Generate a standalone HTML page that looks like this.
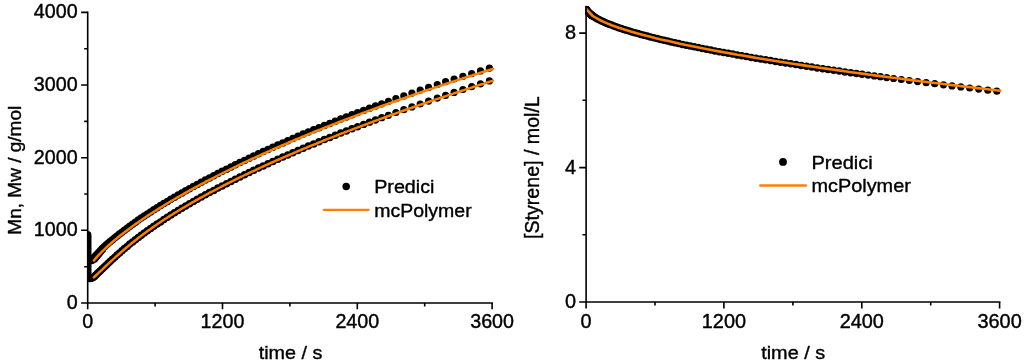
<!DOCTYPE html>
<html><head><meta charset="utf-8"><title>Predici vs mcPolymer</title>
<style>html,body{margin:0;padding:0;background:#fff}svg{display:block}</style></head>
<body>
<svg width="1024" height="363" viewBox="0 0 1024 363">
<defs><clipPath id="cl"><rect x="87.0" y="0" width="500" height="303.0"/></clipPath><clipPath id="cr"><rect x="585.7" y="5.9" width="500" height="296.1"/></clipPath></defs>
<rect width="1024" height="363" fill="#fff"/>
<g clip-path="url(#cl)" fill="#000">
<circle cx="87.6" cy="234.7" r="3.75"/>
<circle cx="87.6" cy="236.2" r="3.75"/>
<circle cx="87.6" cy="237.7" r="3.75"/>
<circle cx="87.6" cy="239.2" r="3.75"/>
<circle cx="87.6" cy="240.7" r="3.75"/>
<circle cx="87.6" cy="242.2" r="3.75"/>
<circle cx="87.6" cy="243.7" r="3.75"/>
<circle cx="87.6" cy="245.2" r="3.75"/>
<circle cx="87.6" cy="246.7" r="3.75"/>
<circle cx="87.6" cy="248.2" r="3.75"/>
<circle cx="87.6" cy="249.7" r="3.75"/>
<circle cx="87.6" cy="251.2" r="3.75"/>
<circle cx="87.6" cy="252.7" r="3.75"/>
<circle cx="87.6" cy="254.2" r="3.75"/>
<circle cx="87.6" cy="255.7" r="3.75"/>
<circle cx="87.6" cy="257.2" r="3.75"/>
<circle cx="87.6" cy="258.7" r="3.75"/>
<circle cx="87.6" cy="260.2" r="3.75"/>
<circle cx="87.6" cy="261.7" r="3.75"/>
<circle cx="87.6" cy="263.2" r="3.75"/>
<circle cx="87.6" cy="264.7" r="3.75"/>
<circle cx="87.6" cy="266.2" r="3.75"/>
<circle cx="87.6" cy="267.7" r="3.75"/>
<circle cx="87.6" cy="269.2" r="3.75"/>
<circle cx="87.6" cy="270.7" r="3.75"/>
<circle cx="87.6" cy="272.2" r="3.75"/>
<circle cx="87.6" cy="273.7" r="3.75"/>
<circle cx="87.6" cy="275.2" r="3.75"/>
<circle cx="87.6" cy="276.7" r="3.75"/>
<circle cx="87.6" cy="278.2" r="3.75"/>
<circle cx="88.6" cy="278.2" r="3.75"/>
<circle cx="89.6" cy="278.4" r="3.75"/>
<circle cx="90.6" cy="278.3" r="3.75"/>
<circle cx="91.5" cy="278.1" r="3.75"/>
<circle cx="92.3" cy="277.8" r="3.75"/>
<circle cx="93.0" cy="277.5" r="3.75"/>
<circle cx="88.6" cy="257.5" r="3.75"/>
<circle cx="89.4" cy="259.6" r="3.75"/>
<circle cx="90.4" cy="260.6" r="3.75"/>
<circle cx="91.4" cy="260.6" r="3.75"/>
<circle cx="92.3" cy="259.9" r="3.75"/>
<circle cx="93.1" cy="258.9" r="3.75"/>
<circle cx="93.7" cy="258.0" r="3.75"/>
<circle cx="489.4" cy="68.2" r="3.60"/>
<circle cx="489.4" cy="80.9" r="3.60"/>
<circle cx="480.5" cy="70.9" r="3.60"/>
<circle cx="480.5" cy="83.8" r="3.60"/>
<circle cx="471.7" cy="73.6" r="3.60"/>
<circle cx="471.7" cy="86.6" r="3.60"/>
<circle cx="462.9" cy="76.3" r="3.60"/>
<circle cx="462.9" cy="89.5" r="3.60"/>
<circle cx="454.1" cy="79.0" r="3.60"/>
<circle cx="454.1" cy="92.4" r="3.60"/>
<circle cx="445.6" cy="81.7" r="3.60"/>
<circle cx="445.6" cy="95.3" r="3.60"/>
<circle cx="437.3" cy="84.5" r="3.60"/>
<circle cx="437.3" cy="98.1" r="3.60"/>
<circle cx="428.6" cy="87.4" r="3.60"/>
<circle cx="428.6" cy="101.1" r="3.60"/>
<circle cx="420.2" cy="90.2" r="3.60"/>
<circle cx="420.2" cy="104.0" r="3.60"/>
<circle cx="411.9" cy="93.1" r="3.60"/>
<circle cx="411.9" cy="106.9" r="3.60"/>
<circle cx="403.8" cy="95.9" r="3.60"/>
<circle cx="403.8" cy="109.7" r="3.60"/>
<circle cx="395.9" cy="98.7" r="3.60"/>
<circle cx="395.9" cy="112.5" r="3.60"/>
<circle cx="388.4" cy="101.3" r="3.61"/>
<circle cx="388.4" cy="115.3" r="3.61"/>
<circle cx="381.7" cy="103.8" r="3.63"/>
<circle cx="381.7" cy="117.7" r="3.63"/>
<circle cx="375.5" cy="106.0" r="3.65"/>
<circle cx="375.5" cy="120.0" r="3.65"/>
<circle cx="369.5" cy="108.2" r="3.67"/>
<circle cx="369.5" cy="122.2" r="3.67"/>
<circle cx="363.6" cy="110.4" r="3.69"/>
<circle cx="363.6" cy="124.4" r="3.69"/>
<circle cx="357.6" cy="112.6" r="3.71"/>
<circle cx="357.6" cy="126.7" r="3.71"/>
<circle cx="352.0" cy="114.8" r="3.73"/>
<circle cx="352.0" cy="128.8" r="3.73"/>
<circle cx="346.4" cy="116.9" r="3.75"/>
<circle cx="346.4" cy="131.0" r="3.75"/>
<circle cx="340.8" cy="119.1" r="3.75"/>
<circle cx="340.8" cy="133.1" r="3.75"/>
<circle cx="335.3" cy="121.2" r="3.75"/>
<circle cx="335.3" cy="135.3" r="3.75"/>
<circle cx="329.8" cy="123.4" r="3.75"/>
<circle cx="329.8" cy="137.4" r="3.75"/>
<circle cx="324.4" cy="125.5" r="3.75"/>
<circle cx="324.4" cy="139.6" r="3.75"/>
<circle cx="319.0" cy="127.7" r="3.75"/>
<circle cx="319.0" cy="141.8" r="3.75"/>
<circle cx="313.7" cy="129.8" r="3.75"/>
<circle cx="313.7" cy="143.9" r="3.75"/>
<circle cx="308.4" cy="132.0" r="3.75"/>
<circle cx="308.4" cy="146.1" r="3.75"/>
<circle cx="303.2" cy="134.1" r="3.75"/>
<circle cx="303.2" cy="148.3" r="3.75"/>
<circle cx="298.0" cy="136.3" r="3.75"/>
<circle cx="298.0" cy="150.5" r="3.75"/>
<circle cx="292.9" cy="138.5" r="3.75"/>
<circle cx="292.9" cy="152.7" r="3.75"/>
<circle cx="287.8" cy="140.7" r="3.75"/>
<circle cx="287.8" cy="154.9" r="3.75"/>
<circle cx="282.8" cy="142.9" r="3.75"/>
<circle cx="282.8" cy="157.1" r="3.75"/>
<circle cx="277.8" cy="145.1" r="3.75"/>
<circle cx="277.8" cy="159.3" r="3.75"/>
<circle cx="272.9" cy="147.2" r="3.75"/>
<circle cx="272.9" cy="161.5" r="3.75"/>
<circle cx="268.0" cy="149.4" r="3.75"/>
<circle cx="268.0" cy="163.7" r="3.75"/>
<circle cx="263.2" cy="151.6" r="3.75"/>
<circle cx="263.2" cy="165.9" r="3.75"/>
<circle cx="258.5" cy="153.8" r="3.75"/>
<circle cx="258.5" cy="168.1" r="3.75"/>
<circle cx="253.7" cy="156.0" r="3.75"/>
<circle cx="253.7" cy="170.3" r="3.75"/>
<circle cx="249.1" cy="158.2" r="3.75"/>
<circle cx="249.1" cy="172.5" r="3.75"/>
<circle cx="244.5" cy="160.4" r="3.75"/>
<circle cx="244.5" cy="174.7" r="3.75"/>
<circle cx="239.9" cy="162.6" r="3.75"/>
<circle cx="239.9" cy="177.0" r="3.75"/>
<circle cx="235.4" cy="164.8" r="3.75"/>
<circle cx="235.4" cy="179.2" r="3.75"/>
<circle cx="231.0" cy="167.0" r="3.75"/>
<circle cx="231.0" cy="181.4" r="3.75"/>
<circle cx="226.6" cy="169.2" r="3.75"/>
<circle cx="226.6" cy="183.7" r="3.75"/>
<circle cx="222.2" cy="171.3" r="3.75"/>
<circle cx="222.2" cy="185.9" r="3.75"/>
<circle cx="217.9" cy="173.5" r="3.75"/>
<circle cx="217.9" cy="188.1" r="3.75"/>
<circle cx="213.7" cy="175.7" r="3.75"/>
<circle cx="213.7" cy="190.4" r="3.75"/>
<circle cx="209.5" cy="177.9" r="3.75"/>
<circle cx="209.5" cy="192.6" r="3.75"/>
<circle cx="205.4" cy="180.1" r="3.75"/>
<circle cx="205.4" cy="194.8" r="3.75"/>
<circle cx="201.3" cy="182.2" r="3.75"/>
<circle cx="201.3" cy="197.1" r="3.75"/>
<circle cx="197.3" cy="184.4" r="3.75"/>
<circle cx="197.3" cy="199.3" r="3.75"/>
<circle cx="193.4" cy="186.5" r="3.75"/>
<circle cx="193.4" cy="201.6" r="3.75"/>
<circle cx="189.5" cy="188.7" r="3.75"/>
<circle cx="189.5" cy="203.8" r="3.75"/>
<circle cx="185.7" cy="190.8" r="3.75"/>
<circle cx="185.7" cy="206.1" r="3.75"/>
<circle cx="181.9" cy="192.9" r="3.75"/>
<circle cx="181.9" cy="208.3" r="3.75"/>
<circle cx="178.2" cy="195.1" r="3.75"/>
<circle cx="178.2" cy="210.6" r="3.75"/>
<circle cx="174.5" cy="197.2" r="3.75"/>
<circle cx="174.5" cy="212.8" r="3.75"/>
<circle cx="170.9" cy="199.3" r="3.75"/>
<circle cx="170.9" cy="215.1" r="3.75"/>
<circle cx="167.4" cy="201.4" r="3.75"/>
<circle cx="167.4" cy="217.3" r="3.75"/>
<circle cx="163.9" cy="203.5" r="3.75"/>
<circle cx="163.9" cy="219.6" r="3.75"/>
<circle cx="160.5" cy="205.6" r="3.75"/>
<circle cx="160.5" cy="221.9" r="3.75"/>
<circle cx="157.1" cy="207.7" r="3.75"/>
<circle cx="157.1" cy="224.1" r="3.75"/>
<circle cx="153.8" cy="209.8" r="3.75"/>
<circle cx="153.8" cy="226.3" r="3.75"/>
<circle cx="150.6" cy="211.9" r="3.75"/>
<circle cx="150.6" cy="228.5" r="3.75"/>
<circle cx="147.4" cy="214.0" r="3.75"/>
<circle cx="147.4" cy="230.8" r="3.75"/>
<circle cx="144.3" cy="216.0" r="3.75"/>
<circle cx="144.3" cy="233.0" r="3.75"/>
<circle cx="141.3" cy="218.1" r="3.75"/>
<circle cx="141.3" cy="235.2" r="3.75"/>
<circle cx="138.3" cy="220.1" r="3.75"/>
<circle cx="138.3" cy="237.5" r="3.75"/>
<circle cx="135.4" cy="222.2" r="3.75"/>
<circle cx="135.4" cy="239.7" r="3.75"/>
<circle cx="132.6" cy="224.2" r="3.75"/>
<circle cx="132.6" cy="241.9" r="3.75"/>
<circle cx="129.8" cy="226.2" r="3.75"/>
<circle cx="129.8" cy="244.1" r="3.75"/>
<circle cx="127.2" cy="228.2" r="3.75"/>
<circle cx="127.2" cy="246.4" r="3.75"/>
<circle cx="124.5" cy="230.2" r="3.75"/>
<circle cx="124.5" cy="248.6" r="3.75"/>
<circle cx="122.0" cy="232.2" r="3.75"/>
<circle cx="122.0" cy="250.8" r="3.75"/>
<circle cx="119.5" cy="234.1" r="3.75"/>
<circle cx="119.5" cy="253.0" r="3.75"/>
<circle cx="117.1" cy="236.0" r="3.75"/>
<circle cx="117.1" cy="255.1" r="3.75"/>
<circle cx="114.8" cy="237.8" r="3.75"/>
<circle cx="114.8" cy="257.2" r="3.75"/>
<circle cx="112.5" cy="239.7" r="3.75"/>
<circle cx="112.5" cy="259.3" r="3.75"/>
<circle cx="110.3" cy="241.5" r="3.75"/>
<circle cx="110.3" cy="261.3" r="3.75"/>
<circle cx="108.2" cy="243.3" r="3.75"/>
<circle cx="108.2" cy="263.3" r="3.75"/>
<circle cx="106.2" cy="245.0" r="3.75"/>
<circle cx="106.2" cy="265.2" r="3.75"/>
<circle cx="104.3" cy="246.8" r="3.75"/>
<circle cx="104.3" cy="267.0" r="3.75"/>
<circle cx="102.4" cy="248.6" r="3.75"/>
<circle cx="102.4" cy="249.5" r="3.75"/>
<circle cx="102.4" cy="268.8" r="3.75"/>
<circle cx="100.6" cy="250.4" r="3.75"/>
<circle cx="100.6" cy="251.5" r="3.75"/>
<circle cx="100.6" cy="270.5" r="3.75"/>
<circle cx="99.0" cy="252.2" r="3.75"/>
<circle cx="99.0" cy="253.5" r="3.75"/>
<circle cx="99.0" cy="272.1" r="3.75"/>
<circle cx="97.4" cy="253.9" r="3.75"/>
<circle cx="97.4" cy="255.4" r="3.75"/>
<circle cx="97.4" cy="273.6" r="3.75"/>
<circle cx="95.9" cy="255.6" r="3.75"/>
<circle cx="95.9" cy="257.2" r="3.75"/>
<circle cx="95.9" cy="275.0" r="3.75"/>
<circle cx="94.5" cy="257.3" r="3.75"/>
<circle cx="94.5" cy="259.1" r="3.75"/>
<circle cx="94.5" cy="276.4" r="3.75"/>
</g>
<path d="M93.9 260.5 L95.9 258.1 L97.9 255.9 L99.9 253.8 L101.9 251.7 L103.9 249.8 L105.9 247.9 L107.9 246.0 L109.9 244.2 L111.9 242.5 L113.9 240.8 L115.9 239.1 L117.9 237.4 L119.9 235.8 L121.9 234.3 L123.9 232.7 L125.9 231.2 L127.9 229.7 L129.9 228.2 L131.9 226.7 L133.9 225.3 L135.9 223.8 L137.9 222.4 L139.9 221.0 L141.9 219.7 L143.9 218.3 L145.9 217.0 L147.9 215.6 L149.9 214.3 L151.9 213.0 L153.9 211.7 L155.9 210.5 L157.9 209.2 L159.9 207.9 L161.9 206.7 L163.9 205.5 L165.9 204.3 L167.9 203.0 L169.9 201.8 L171.9 200.7 L173.9 199.5 L175.9 198.3 L177.9 197.1 L179.9 196.0 L181.9 194.9 L183.9 193.7 L185.9 192.6 L187.9 191.5 L189.9 190.4 L191.9 189.3 L193.9 188.2 L195.9 187.1 L197.9 186.0 L199.9 184.9 L201.9 183.8 L203.9 182.8 L205.9 181.7 L207.9 180.7 L209.9 179.6 L211.9 178.6 L213.9 177.6 L215.9 176.5 L217.9 175.5 L219.9 174.5 L221.9 173.5 L223.9 172.5 L225.9 171.5 L227.9 170.5 L229.9 169.5 L231.9 168.5 L233.9 167.5 L235.9 166.6 L237.9 165.6 L239.9 164.6 L241.9 163.7 L243.9 162.7 L245.9 161.8 L247.9 160.9 L249.9 159.9 L251.9 159.0 L253.9 158.1 L255.9 157.1 L257.9 156.2 L259.9 155.3 L261.9 154.4 L263.9 153.5 L265.9 152.6 L267.9 151.7 L269.9 150.8 L271.9 149.9 L273.9 149.0 L275.9 148.1 L277.9 147.2 L279.9 146.4 L281.9 145.5 L283.9 144.6 L285.9 143.8 L287.9 142.9 L289.9 142.0 L291.9 141.2 L293.9 140.3 L295.9 139.5 L297.9 138.7 L299.9 137.8 L301.9 137.0 L303.9 136.2 L305.9 135.3 L307.9 134.5 L309.9 133.7 L311.9 132.9 L313.9 132.0 L315.9 131.2 L317.9 130.4 L319.9 129.6 L321.9 128.8 L323.9 128.0 L325.9 127.2 L327.9 126.4 L329.9 125.6 L331.9 124.8 L333.9 124.1 L335.9 123.3 L337.9 122.5 L339.9 121.7 L341.9 120.9 L343.9 120.2 L345.9 119.4 L347.9 118.6 L349.9 117.9 L351.9 117.1 L353.9 116.4 L355.9 115.6 L357.9 114.8 L359.9 114.1 L361.9 113.3 L363.9 112.6 L365.9 111.9 L367.9 111.1 L369.9 110.4 L371.9 109.6 L373.9 108.9 L375.9 108.2 L377.9 107.4 L379.9 106.7 L381.9 106.0 L383.9 105.3 L385.9 104.6 L387.9 103.8 L389.9 103.1 L391.9 102.4 L393.9 101.7 L395.9 101.0 L397.9 100.3 L399.9 99.6 L401.9 98.9 L403.9 98.2 L405.9 97.5 L407.9 96.8 L409.9 96.1 L411.9 95.4 L413.9 94.7 L415.9 94.0 L417.9 93.3 L419.9 92.6 L421.9 92.0 L423.9 91.3 L425.9 90.6 L427.9 89.9 L429.9 89.2 L431.9 88.6 L433.9 87.9 L435.9 87.2 L437.9 86.6 L439.9 85.9 L441.9 85.2 L443.9 84.6 L445.9 83.9 L447.9 83.2 L449.9 82.6 L451.9 81.9 L453.9 81.3 L455.9 80.6 L457.9 80.0 L459.9 79.3 L461.9 78.7 L463.9 78.0 L465.9 77.4 L467.9 76.8 L469.9 76.1 L471.9 75.5 L473.9 74.8 L475.9 74.2 L477.9 73.6 L479.9 72.9 L481.9 72.3 L483.9 71.7 L485.9 71.0 L487.9 70.4 L489.9 69.8 L491.9 69.2 L493.0 68.8" fill="none" stroke="#ff8000" stroke-width="2.5" stroke-linecap="round" stroke-linejoin="round"/>
<path d="M93.9 277.4 L95.9 275.5 L97.9 273.6 L99.9 271.7 L101.9 269.8 L103.9 267.9 L105.9 266.0 L107.9 264.1 L109.9 262.2 L111.9 260.4 L113.9 258.6 L115.9 256.7 L117.9 255.0 L119.9 253.2 L121.9 251.5 L123.9 249.7 L125.9 248.0 L127.9 246.4 L129.9 244.7 L131.9 243.1 L133.9 241.5 L135.9 239.9 L137.9 238.3 L139.9 236.8 L141.9 235.2 L143.9 233.7 L145.9 232.3 L147.9 230.8 L149.9 229.4 L151.9 227.9 L153.9 226.6 L155.9 225.2 L157.9 223.8 L159.9 222.5 L161.9 221.1 L163.9 219.8 L165.9 218.5 L167.9 217.2 L169.9 215.9 L171.9 214.7 L173.9 213.4 L175.9 212.2 L177.9 211.0 L179.9 209.8 L181.9 208.5 L183.9 207.4 L185.9 206.2 L187.9 205.0 L189.9 203.8 L191.9 202.7 L193.9 201.6 L195.9 200.4 L197.9 199.3 L199.9 198.2 L201.9 197.1 L203.9 196.0 L205.9 194.9 L207.9 193.8 L209.9 192.7 L211.9 191.7 L213.9 190.6 L215.9 189.6 L217.9 188.5 L219.9 187.5 L221.9 186.4 L223.9 185.4 L225.9 184.4 L227.9 183.4 L229.9 182.4 L231.9 181.4 L233.9 180.4 L235.9 179.4 L237.9 178.4 L239.9 177.4 L241.9 176.5 L243.9 175.5 L245.9 174.5 L247.9 173.6 L249.9 172.6 L251.9 171.7 L253.9 170.8 L255.9 169.8 L257.9 168.9 L259.9 168.0 L261.9 167.0 L263.9 166.1 L265.9 165.2 L267.9 164.3 L269.9 163.4 L271.9 162.5 L273.9 161.6 L275.9 160.7 L277.9 159.8 L279.9 159.0 L281.9 158.1 L283.9 157.2 L285.9 156.3 L287.9 155.5 L289.9 154.6 L291.9 153.8 L293.9 152.9 L295.9 152.1 L297.9 151.2 L299.9 150.4 L301.9 149.5 L303.9 148.7 L305.9 147.9 L307.9 147.0 L309.9 146.2 L311.9 145.4 L313.9 144.6 L315.9 143.8 L317.9 143.0 L319.9 142.1 L321.9 141.3 L323.9 140.5 L325.9 139.7 L327.9 138.9 L329.9 138.1 L331.9 137.4 L333.9 136.6 L335.9 135.8 L337.9 135.0 L339.9 134.2 L341.9 133.4 L343.9 132.7 L345.9 131.9 L347.9 131.1 L349.9 130.4 L351.9 129.6 L353.9 128.8 L355.9 128.1 L357.9 127.3 L359.9 126.6 L361.9 125.8 L363.9 125.1 L365.9 124.3 L367.9 123.6 L369.9 122.8 L371.9 122.1 L373.9 121.3 L375.9 120.6 L377.9 119.9 L379.9 119.1 L381.9 118.4 L383.9 117.7 L385.9 117.0 L387.9 116.2 L389.9 115.5 L391.9 114.8 L393.9 114.1 L395.9 113.4 L397.9 112.7 L399.9 111.9 L401.9 111.2 L403.9 110.5 L405.9 109.8 L407.9 109.1 L409.9 108.4 L411.9 107.7 L413.9 107.0 L415.9 106.3 L417.9 105.6 L419.9 104.9 L421.9 104.2 L423.9 103.5 L425.9 102.9 L427.9 102.2 L429.9 101.5 L431.9 100.8 L433.9 100.1 L435.9 99.4 L437.9 98.8 L439.9 98.1 L441.9 97.4 L443.9 96.7 L445.9 96.1 L447.9 95.4 L449.9 94.7 L451.9 94.1 L453.9 93.4 L455.9 92.7 L457.9 92.1 L459.9 91.4 L461.9 90.7 L463.9 90.1 L465.9 89.4 L467.9 88.8 L469.9 88.1 L471.9 87.5 L473.9 86.8 L475.9 86.1 L477.9 85.5 L479.9 84.8 L481.9 84.2 L483.9 83.6 L485.9 82.9 L487.9 82.3 L489.9 81.6 L491.9 81.0 L493.0 80.6" fill="none" stroke="#ff8000" stroke-width="2.5" stroke-linecap="round" stroke-linejoin="round"/>
<g clip-path="url(#cr)" fill="#000">
<circle cx="996.8" cy="91.2" r="3.60"/>
<circle cx="987.8" cy="90.2" r="3.60"/>
<circle cx="978.7" cy="89.1" r="3.60"/>
<circle cx="969.7" cy="88.0" r="3.60"/>
<circle cx="960.8" cy="86.9" r="3.60"/>
<circle cx="952.0" cy="85.9" r="3.60"/>
<circle cx="943.5" cy="84.8" r="3.60"/>
<circle cx="934.7" cy="83.7" r="3.60"/>
<circle cx="926.1" cy="82.7" r="3.60"/>
<circle cx="917.6" cy="81.6" r="3.60"/>
<circle cx="909.3" cy="80.5" r="3.60"/>
<circle cx="901.3" cy="79.5" r="3.60"/>
<circle cx="893.6" cy="78.5" r="3.61"/>
<circle cx="886.7" cy="77.6" r="3.63"/>
<circle cx="880.4" cy="76.7" r="3.65"/>
<circle cx="874.3" cy="75.9" r="3.67"/>
<circle cx="868.2" cy="75.1" r="3.69"/>
<circle cx="862.1" cy="74.3" r="3.71"/>
<circle cx="856.4" cy="73.5" r="3.73"/>
<circle cx="850.6" cy="72.7" r="3.75"/>
<circle cx="844.9" cy="71.9" r="3.75"/>
<circle cx="839.3" cy="71.1" r="3.75"/>
<circle cx="833.7" cy="70.3" r="3.75"/>
<circle cx="828.1" cy="69.5" r="3.75"/>
<circle cx="822.7" cy="68.7" r="3.75"/>
<circle cx="817.2" cy="67.9" r="3.75"/>
<circle cx="811.8" cy="67.1" r="3.75"/>
<circle cx="806.5" cy="66.2" r="3.75"/>
<circle cx="801.2" cy="65.4" r="3.75"/>
<circle cx="795.9" cy="64.6" r="3.75"/>
<circle cx="790.7" cy="63.8" r="3.75"/>
<circle cx="785.6" cy="63.0" r="3.75"/>
<circle cx="780.5" cy="62.2" r="3.75"/>
<circle cx="775.5" cy="61.4" r="3.75"/>
<circle cx="770.5" cy="60.6" r="3.75"/>
<circle cx="765.6" cy="59.8" r="3.75"/>
<circle cx="760.7" cy="59.0" r="3.75"/>
<circle cx="755.9" cy="58.2" r="3.75"/>
<circle cx="751.1" cy="57.4" r="3.75"/>
<circle cx="746.4" cy="56.6" r="3.75"/>
<circle cx="741.7" cy="55.8" r="3.75"/>
<circle cx="737.1" cy="54.9" r="3.75"/>
<circle cx="732.6" cy="54.1" r="3.75"/>
<circle cx="728.1" cy="53.3" r="3.75"/>
<circle cx="723.6" cy="52.5" r="3.75"/>
<circle cx="719.3" cy="51.7" r="3.75"/>
<circle cx="714.9" cy="50.9" r="3.75"/>
<circle cx="710.7" cy="50.1" r="3.75"/>
<circle cx="706.5" cy="49.3" r="3.75"/>
<circle cx="702.3" cy="48.4" r="3.75"/>
<circle cx="698.2" cy="47.6" r="3.75"/>
<circle cx="694.2" cy="46.8" r="3.75"/>
<circle cx="690.2" cy="46.0" r="3.75"/>
<circle cx="686.3" cy="45.2" r="3.75"/>
<circle cx="682.4" cy="44.4" r="3.75"/>
<circle cx="678.6" cy="43.5" r="3.75"/>
<circle cx="674.9" cy="42.7" r="3.75"/>
<circle cx="671.2" cy="41.9" r="3.75"/>
<circle cx="667.6" cy="41.1" r="3.75"/>
<circle cx="664.0" cy="40.3" r="3.75"/>
<circle cx="660.5" cy="39.4" r="3.75"/>
<circle cx="657.1" cy="38.6" r="3.75"/>
<circle cx="653.7" cy="37.8" r="3.75"/>
<circle cx="650.4" cy="37.0" r="3.75"/>
<circle cx="647.2" cy="36.1" r="3.75"/>
<circle cx="644.0" cy="35.3" r="3.75"/>
<circle cx="640.9" cy="34.5" r="3.75"/>
<circle cx="637.9" cy="33.6" r="3.75"/>
<circle cx="634.9" cy="32.8" r="3.75"/>
<circle cx="632.0" cy="31.9" r="3.75"/>
<circle cx="629.2" cy="31.1" r="3.75"/>
<circle cx="626.4" cy="30.3" r="3.75"/>
<circle cx="623.8" cy="29.4" r="3.75"/>
<circle cx="621.1" cy="28.6" r="3.75"/>
<circle cx="618.6" cy="27.7" r="3.75"/>
<circle cx="616.1" cy="26.8" r="3.75"/>
<circle cx="613.8" cy="26.0" r="3.75"/>
<circle cx="611.5" cy="25.1" r="3.75"/>
<circle cx="609.2" cy="24.2" r="3.75"/>
<circle cx="607.1" cy="23.4" r="3.75"/>
<circle cx="605.0" cy="22.5" r="3.75"/>
<circle cx="603.0" cy="21.6" r="3.75"/>
<circle cx="601.1" cy="20.7" r="3.75"/>
<circle cx="599.3" cy="19.8" r="3.75"/>
<circle cx="597.6" cy="18.9" r="3.75"/>
<circle cx="596.0" cy="18.0" r="3.75"/>
<circle cx="594.5" cy="17.1" r="3.75"/>
<circle cx="593.0" cy="16.1" r="3.75"/>
<circle cx="592.7" cy="15.9" r="3.75"/>
<circle cx="592.3" cy="15.7" r="3.75"/>
<circle cx="592.0" cy="15.4" r="3.75"/>
<circle cx="591.6" cy="15.2" r="3.75"/>
<circle cx="591.3" cy="14.9" r="3.75"/>
<circle cx="591.0" cy="14.6" r="3.75"/>
<circle cx="590.6" cy="14.4" r="3.75"/>
<circle cx="590.3" cy="14.1" r="3.75"/>
<circle cx="589.9" cy="13.8" r="3.75"/>
<circle cx="589.6" cy="13.5" r="3.75"/>
<circle cx="589.2" cy="13.2" r="3.75"/>
<circle cx="588.9" cy="12.8" r="3.75"/>
<circle cx="588.5" cy="12.5" r="3.75"/>
<circle cx="588.2" cy="12.1" r="3.75"/>
<circle cx="587.9" cy="11.7" r="3.75"/>
<circle cx="587.5" cy="11.3" r="3.75"/>
<circle cx="587.2" cy="10.9" r="3.75"/>
<circle cx="586.8" cy="10.4" r="3.75"/>
<circle cx="586.5" cy="9.8" r="3.75"/>
<circle cx="586.1" cy="9.1" r="3.75"/>
<circle cx="586.1" cy="9.1" r="3.75"/>
</g>
<path d="M585.2 8.0 L592.8 16.0 L599.1 19.7 L605.4 22.6 L611.7 25.2 L618.0 27.4 L624.3 29.5 L630.6 31.4 L636.9 33.3 L643.2 35.0 L649.5 36.6 L655.8 38.2 L662.1 39.7 L668.4 41.1 L674.7 42.5 L681.0 43.9 L687.3 45.2 L693.6 46.5 L699.9 47.8 L706.2 49.0 L712.5 50.2 L718.8 51.4 L725.1 52.5 L731.4 53.6 L737.7 54.8 L744.0 55.8 L750.3 56.9 L756.6 58.0 L762.9 59.0 L769.2 60.0 L775.5 61.0 L781.8 62.0 L788.1 63.0 L794.4 64.0 L800.7 64.9 L807.0 65.9 L813.3 66.8 L819.6 67.7 L825.9 68.6 L832.2 69.5 L838.5 70.4 L844.8 71.3 L851.1 72.2 L857.4 73.0 L863.7 73.9 L870.0 74.7 L876.3 75.6 L882.6 76.4 L888.9 77.2 L895.2 78.0 L901.5 78.8 L907.8 79.6 L914.1 80.4 L920.4 81.2 L926.7 82.0 L933.0 82.8 L939.3 83.5 L945.6 84.3 L951.9 85.1 L958.2 85.8 L964.5 86.6 L970.8 87.3 L977.1 88.1 L983.4 88.8 L989.7 89.5 L996.0 90.2 L1000.2 90.7" fill="none" stroke="#ff8000" stroke-width="2.6" stroke-linecap="round" stroke-linejoin="round" clip-path="url(#cr)"/>
<path d="M87.7 12.4 V303.0 M87.7 303.0 H492.1" stroke="#000" stroke-width="1.6" fill="none" stroke-linecap="square"/>
<path d="M87.7 303.0 v6.3 M222.5 303.0 v6.3 M357.3 303.0 v6.3 M492.1 303.0 v6.3 M155.1 303.0 v3.5 M289.9 303.0 v3.5 M424.7 303.0 v3.5 M87.7 303.0 h-6.6 M87.7 230.3 h-6.6 M87.7 157.7 h-6.6 M87.7 85.0 h-6.6 M87.7 12.4 h-6.6 M87.7 266.7 h-3.5 M87.7 194.0 h-3.5 M87.7 121.4 h-3.5 M87.7 48.7 h-3.5 " stroke="#000" stroke-width="1.6" fill="none"/>
<path d="M586.1 6.5 V302.0 M586.1 302.0 H999.6" stroke="#000" stroke-width="1.6" fill="none" stroke-linecap="square"/>
<path d="M586.1 302.0 v6.6 M723.9 302.0 v6.6 M861.8 302.0 v6.6 M999.6 302.0 v6.6 M655.0 302.0 v3.6 M792.9 302.0 v3.6 M930.7 302.0 v3.6 M586.1 302.0 h-6.9 M586.1 167.6 h-6.9 M586.1 33.1 h-6.9 M586.1 234.8 h-3.6 M586.1 100.3 h-3.6 " stroke="#000" stroke-width="1.6" fill="none"/>
<g font-family="'Liberation Sans', Arial, sans-serif" fill="#000" stroke="#000" stroke-width="0.4" stroke-linejoin="round">
<text transform="translate(87.7 327.6) scale(1.010 1.000)" font-size="19.50" text-anchor="middle">0</text>
<text transform="translate(222.5 327.6) scale(1.010 1.000)" font-size="19.50" text-anchor="middle">1200</text>
<text transform="translate(357.3 327.6) scale(1.010 1.000)" font-size="19.50" text-anchor="middle">2400</text>
<text transform="translate(492.1 327.6) scale(1.010 1.000)" font-size="19.50" text-anchor="middle">3600</text>
<text transform="translate(77.6 308.9) scale(1.010 1.000)" font-size="19.50" text-anchor="end">0</text>
<text transform="translate(77.6 236.2) scale(1.010 1.000)" font-size="19.50" text-anchor="end">1000</text>
<text transform="translate(77.6 163.6) scale(1.010 1.000)" font-size="19.50" text-anchor="end">2000</text>
<text transform="translate(77.6 90.9) scale(1.010 1.000)" font-size="19.50" text-anchor="end">3000</text>
<text transform="translate(77.6 18.3) scale(1.010 1.000)" font-size="19.50" text-anchor="end">4000</text>
<text transform="translate(290.5 358.5) scale(1.013 0.955)" font-size="19.50" text-anchor="middle">time / s</text>
<text transform="translate(20.9 170.2) rotate(-90) scale(0.975 0.985)" font-size="19.50" text-anchor="middle">Mn, Mw / g/mol</text>
<text transform="translate(374.2 192.8) scale(1.010 0.925)" font-size="19.50" text-anchor="start">Predici</text>
<text transform="translate(374.2 216.6) scale(1.000 0.925)" font-size="19.50" text-anchor="start">mcPolymer</text>
<text transform="translate(586.1 328.1) scale(1.000 0.990)" font-size="19.90" text-anchor="middle">0</text>
<text transform="translate(723.9 328.1) scale(1.000 0.990)" font-size="19.90" text-anchor="middle">1200</text>
<text transform="translate(861.8 328.1) scale(1.000 0.990)" font-size="19.90" text-anchor="middle">2400</text>
<text transform="translate(999.6 328.1) scale(1.000 0.990)" font-size="19.90" text-anchor="middle">3600</text>
<text transform="translate(576.0 308.3) scale(1.000 1.000)" font-size="19.90" text-anchor="end">0</text>
<text transform="translate(576.0 173.9) scale(1.000 1.000)" font-size="19.90" text-anchor="end">4</text>
<text transform="translate(576.0 39.4) scale(1.000 1.000)" font-size="19.90" text-anchor="end">8</text>
<text transform="translate(793.2 358.5) scale(1.000 0.955)" font-size="19.90" text-anchor="middle">time / s</text>
<text transform="translate(539.3 167.6) rotate(-90) scale(0.985 1.030)" font-size="19.90" text-anchor="middle">[Styrene] / mol/L</text>
<text transform="translate(811.4 168.7) scale(1.010 0.925)" font-size="19.90" text-anchor="start">Predici</text>
<text transform="translate(811.4 192.3) scale(1.000 0.925)" font-size="19.90" text-anchor="start">mcPolymer</text>
</g>
<circle cx="346.2" cy="186.5" r="3.75"/>
<path d="M323.8 209.8 H368.6" stroke="#ff8000" stroke-width="2.3" stroke-linecap="round"/>
<circle cx="783.0" cy="161.9" r="3.90"/>
<path d="M760.3 185.5 H805.8" stroke="#ff8000" stroke-width="2.4" stroke-linecap="round"/>
</svg>
</body></html>
